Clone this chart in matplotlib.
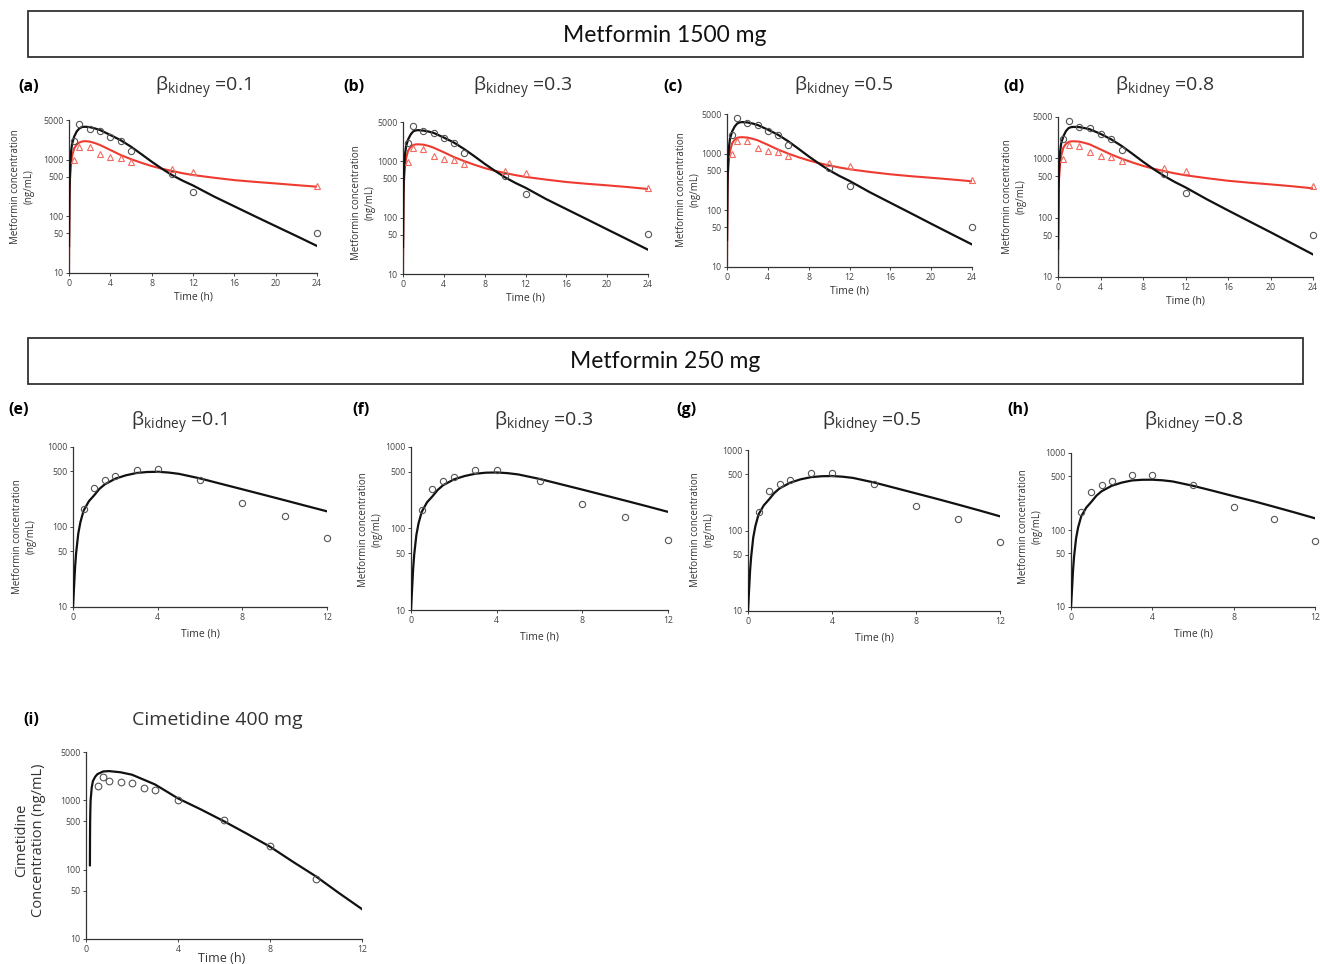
import numpy as np
import matplotlib.pyplot as plt
from matplotlib.patches import Rectangle

plt.rcParams['font.family'] = ['Open Sans', 'DejaVu Sans']
plt.rcParams['mathtext.default'] = 'regular'

W, H = 1320, 964

# ---- Metformin 1500 mg: observed (control = circles, with inhibitor = triangles)
t_obs_1500 = [0.5, 1, 2, 3, 4, 5, 6, 10, 12, 24]
c_obs_1500_ctrl = [2100, 4200, 3400, 3200, 2550, 2150, 1400, 550, 265, 51]
c_obs_1500_inh = [980, 1700, 1650, 1260, 1100, 1050, 890, 680, 610, 340]

# simulated curves, one per beta_kidney
t_mod_1500 = [0, 0.05, 0.1, 0.2, 0.3, 0.5, 0.75, 1, 1.25, 1.5, 2, 2.5, 3, 4, 5, 6,
              7, 8, 9, 10, 11, 12, 14, 16, 18, 20, 22, 24]
black_01 = [30, 300, 700, 1400, 1900, 2550, 3150, 3550, 3750, 3800, 3750, 3550, 3330, 2720, 2200, 1690,
            1250, 920, 690, 530, 425, 350, 225, 150, 100, 67, 45, 30]
black_03 = [30, 300, 700, 1350, 1850, 2450, 3000, 3400, 3550, 3580, 3520, 3380, 3200, 2650, 2150, 1650,
            1230, 905, 680, 520, 415, 340, 215, 142, 94, 62, 41, 27]
black_05 = [30, 300, 700, 1350, 1850, 2450, 3000, 3400, 3560, 3600, 3550, 3400, 3200, 2650, 2150, 1650,
            1220, 895, 670, 510, 405, 330, 208, 136, 89, 58, 38, 25]
black_08 = [30, 300, 700, 1300, 1800, 2350, 2900, 3250, 3380, 3400, 3380, 3250, 3100, 2600, 2100, 1620,
            1200, 880, 660, 505, 400, 325, 205, 133, 87, 57, 37, 24]
red_01 = [10, 200, 450, 850, 1150, 1580, 1850, 2000, 2080, 2120, 2080, 1960, 1810, 1480, 1205, 1020,
          880, 770, 690, 630, 575, 535, 480, 435, 405, 380, 355, 333]
red_03 = [10, 200, 450, 830, 1120, 1550, 1800, 1950, 2000, 2010, 1980, 1880, 1750, 1450, 1190, 1010,
          870, 760, 680, 620, 570, 530, 475, 430, 400, 375, 350, 323]
red_05 = [10, 200, 450, 820, 1100, 1520, 1760, 1900, 1940, 1950, 1920, 1830, 1720, 1430, 1180, 1000,
          865, 760, 680, 620, 570, 530, 475, 432, 400, 375, 350, 325]
red_08 = [10, 200, 450, 820, 1100, 1520, 1760, 1900, 1940, 1950, 1920, 1830, 1720, 1420, 1170, 990,
          855, 750, 670, 610, 560, 520, 465, 420, 390, 365, 340, 313]

# ---- Metformin 250 mg
t_obs_250 = [0.5, 1, 1.5, 2, 3, 4, 6, 8, 10, 12]
c_obs_250 = [170, 307, 383, 430, 521, 525, 383, 200, 139, 73]
t_mod_250 = [0, 0.05, 0.1, 0.15, 0.25, 0.35, 0.5, 0.75, 1, 1.25, 1.5, 2, 2.5, 3, 3.5, 4, 4.5, 5,
             6, 7, 8, 9, 10, 11, 12]
model_e = [10, 18, 32, 48, 83, 115, 160, 210, 249, 300, 341, 402, 443, 473, 487, 490, 480, 462,
           405, 346, 296, 253, 216, 184, 157]
model_f = [10, 18, 32, 48, 83, 115, 160, 210, 248, 298, 340, 400, 440, 470, 484, 487, 478, 461,
           406, 349, 300, 257, 220, 188, 160]
model_g = [10, 18, 32, 47, 82, 113, 158, 205, 243, 292, 333, 392, 432, 460, 472, 475, 466, 450,
           395, 338, 289, 247, 210, 178, 150]
model_h = [10, 17, 30, 45, 78, 108, 150, 195, 232, 279, 318, 375, 413, 440, 449, 450, 442, 427,
           375, 322, 275, 236, 200, 169, 142]

# ---- Cimetidine 400 mg
t_obs_cim = [0.5, 0.75, 1, 1.5, 2, 2.5, 3, 4, 6, 8, 10]
c_obs_cim = [1600, 2180, 1910, 1830, 1810, 1530, 1400, 1010, 518, 221, 73]
t_mod_cim = [0.17, 0.175, 0.18, 0.19, 0.2, 0.25, 0.3, 0.4, 0.5, 0.75, 1, 1.5, 2, 2.5, 3, 3.5, 4,
             5, 6, 7, 8, 9, 10, 11, 12]
c_mod_cim = [116, 300, 500, 750, 1000, 1550, 1900, 2200, 2400, 2620, 2650, 2550, 2350, 2000, 1700,
             1350, 1070, 740, 500, 330, 215, 130, 80, 46, 27]

betas = ['0.1', '0.3', '0.5', '0.8']
letters_top = ['(a)', '(b)', '(c)', '(d)']
letters_mid = ['(e)', '(f)', '(g)', '(h)']
RED = '#ee3b30'


def fx(x):
    return x / W


def fy(y):
    return 1 - y / H


def add_axes(x0, x1, ytop, ybot):
    return fig.add_axes([fx(x0), fy(ybot), (x1 - x0) / W, (ybot - ytop) / H])


def style(ax, xmax, xticks, ymax, yticks, fs=6.3):
    ax.set_yscale('log')
    ax.set_xlim(0, xmax)
    ax.set_ylim(10, ymax)
    ax.set_xticks(xticks)
    ax.set_xticklabels([str(v) for v in xticks])
    ax.set_yticks(yticks)
    ax.set_yticklabels([str(v) for v in yticks])
    ax.yaxis.set_minor_locator(plt.NullLocator())
    for s in ['top', 'right']:
        ax.spines[s].set_visible(False)
    for s in ['left', 'bottom']:
        ax.spines[s].set_color('#333333')
        ax.spines[s].set_linewidth(0.9)
    ax.tick_params(direction='out', length=2.5, width=0.7, color='#444444',
                   labelsize=fs, labelcolor='#444444', pad=1.5)
    ax.patch.set_alpha(0)


def dots(ax, t, c, marker, edge, ms=4.5):
    ax.plot(t, c, marker, ms=ms, mfc='none', mec=edge, mew=0.8, zorder=4, clip_on=False)


fig = plt.figure(figsize=(W / 100, H / 100), dpi=100)

# header boxes
for ytop, label in [(11, 'Metformin 1500 mg'), (338, 'Metformin 250 mg')]:
    fig.patches.append(Rectangle((fx(28), fy(ytop + 46)), 1275 / W, 46 / H,
                                 transform=fig.transFigure, fill=False,
                                 edgecolor='#333333', linewidth=1.3))
    fig.text(fx(665), fy(ytop + 24), label, ha='center', va='center',
             fontsize=16.5, family=['Lato', 'DejaVu Sans'], color='#111111')

# row 1: metformin 1500 mg
top_axes = [(69, 317, 120, 273), (403, 648, 122, 274), (727, 972, 114, 267), (1058, 1313, 117, 277)]
top_black = [black_01, black_03, black_05, black_08]
top_red = [red_01, red_03, red_05, red_08]
top_letter_x = [18, 343, 663, 1003]
top_title_x = [203, 523, 844, 1165]
top_ylab = [(22, 187), (363, 203), (688, 190), (1014, 197)]

for i in range(4):
    ax = add_axes(*top_axes[i])
    ax.plot(t_mod_1500, top_red[i], color=RED, lw=1.5, zorder=2)
    ax.plot(t_mod_1500, top_black[i], color='#111111', lw=1.6, zorder=3)
    dots(ax, t_obs_1500, c_obs_1500_ctrl, 'o', '#555555')
    dots(ax, t_obs_1500, c_obs_1500_inh, '^', '#f06a60')
    style(ax, 24, [0, 4, 8, 12, 16, 20, 24], 5000, [10, 50, 100, 500, 1000, 5000])
    ax.set_xlabel('Time (h)', fontsize=7.5, color='#333333', labelpad=3)
    fig.text(fx(top_letter_x[i]), fy(87), letters_top[i], fontsize=11.5,
             fontweight='bold', ha='left', va='center')
    fig.text(fx(top_title_x[i]), fy(88), r'$\beta_{kidney}$ =' + betas[i], fontsize=14,
             ha='center', va='center', color='#333333')
    fig.text(fx(top_ylab[i][0]), fy(top_ylab[i][1]), 'Metformin concentration\n(ng/mL)',
             rotation=90, ha='center', va='center', fontsize=7, color='#333333',
             multialignment='center', linespacing=1.3)

# row 2: metformin 250 mg
mid_axes = [(73, 327, 447, 607), (411, 668, 447, 610), (748, 1000, 450, 611), (1071, 1315, 453, 607)]
mid_models = [model_e, model_f, model_g, model_h]
mid_letter_x = [8, 352, 676, 1007]
mid_title_x = [179, 544, 872, 1194]
mid_ylab = [(24, 537), (370, 530), (702, 530), (1030, 527)]

for i in range(4):
    ax = add_axes(*mid_axes[i])
    ax.plot(t_mod_250, mid_models[i], color='#111111', lw=1.6, zorder=3)
    dots(ax, t_obs_250, c_obs_250, 'o', '#555555')
    style(ax, 12, [0, 4, 8, 12], 1000, [10, 50, 100, 500, 1000])
    ax.set_xlabel('Time (h)', fontsize=7.5, color='#333333', labelpad=5)
    fig.text(fx(mid_letter_x[i]), fy(410), letters_mid[i], fontsize=11.5,
             fontweight='bold', ha='left', va='center')
    fig.text(fx(mid_title_x[i]), fy(423), r'$\beta_{kidney}$ =' + betas[i], fontsize=14,
             ha='center', va='center', color='#333333')
    fig.text(fx(mid_ylab[i][0]), fy(mid_ylab[i][1]), 'Metformin concentration\n(ng/mL)',
             rotation=90, ha='center', va='center', fontsize=7, color='#333333',
             multialignment='center', linespacing=1.3)

# row 3: cimetidine 400 mg
ax = add_axes(86, 362, 752, 939)
ax.plot(t_mod_cim, c_mod_cim, color='#111111', lw=1.6, zorder=3)
dots(ax, t_obs_cim, c_obs_cim, 'o', '#555555', ms=4.8)
style(ax, 12, [0, 4, 8, 12], 5000, [10, 50, 100, 500, 1000, 5000])
fig.text(fx(23), fy(720), '(i)', fontsize=11.5, fontweight='bold', ha='left', va='center')
fig.text(fx(217), fy(720), 'Cimetidine 400 mg', fontsize=14, ha='center', va='center',
         color='#333333')
fig.text(fx(30), fy(840), 'Cimetidine\nConcentration (ng/mL)', rotation=90, ha='center',
         va='center', fontsize=10.5, color='#333333', multialignment='center', linespacing=1.2)
fig.text(fx(222), fy(958), 'Time (h)', ha='center', va='center', fontsize=9, color='#333333')

fig.savefig('out.png', dpi=100)
